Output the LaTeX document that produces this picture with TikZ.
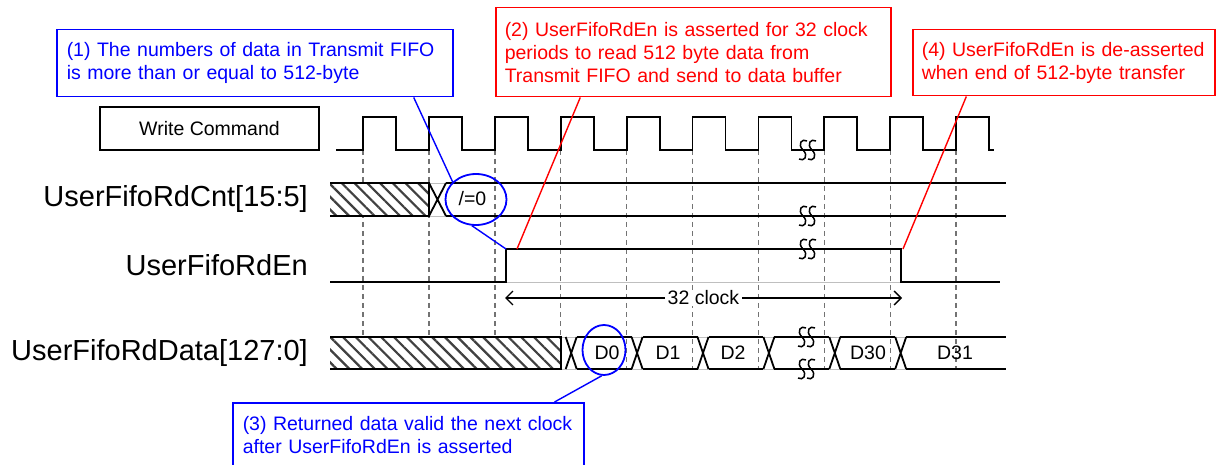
\documentclass[tikz,border=0pt]{standalone}
\usepackage{fontspec}
\setmainfont{Liberation Sans}
\usetikzlibrary{shapes.geometric,patterns.meta,arrows.meta,calc}

\begin{document}
\begin{tikzpicture}[x=1pt,y=-1pt,
  sig/.style={line width=1.8pt},
  bgline/.style={line width=0.8pt, black!25},
  guide/.style={line width=1.4pt, black!55, dash pattern=on 5pt off 4pt},
  txt/.style={font=\fontsize{19.5}{23}\selectfont},
  lbl/.style={font=\fontsize{29}{34}\selectfont, inner sep=0pt},
  cbox/.style={draw, line width=1.5pt, inner xsep=10pt, inner ysep=0pt,
               align=left, anchor=north west, txt},
  ring/.style={ellipse, draw=blue, line width=1.8pt, inner sep=0pt},
  lead/.style={line width=1.4pt},
  hatch/.style={pattern={Lines[angle=-45,distance=9pt,line width=2.2pt]},
                pattern color=black!75},
  brk/.pic={
    \foreach \cx in {-4,5}
      \draw[line width=1.5pt] ({\cx+4},-9) .. controls ({\cx-1},-12) and ({\cx-6},-6) .. (\cx,0)
                              .. controls ({\cx+6},6) and ({\cx+1},12) .. ({\cx-4},9);
  }
]
\useasboundingbox (0,0) rectangle (1216,465);

% dashed guides at every rising clock edge
\foreach \i in {0,...,9}
  \draw[guide] ({363+65.9*\i},150) -- ({363+65.9*\i},369);

% faint background rails
\draw[bgline] (330,183) -- (1006,183) (330,216) -- (1006,216);
\draw[bgline] (330,337) -- (1006,337) (330,369) -- (1006,369);
\draw[bgline] (330,282) -- (1000,282);

% clock
\draw[sig] (336,150)
  foreach \i in {0,...,9} {
    -- ({363+65.9*\i},150) -- ({363+65.9*\i},117)
    -- ({396+65.9*\i},117) -- ({396+65.9*\i},150)
  } -- (994,150);

% UserFifoRdCnt[15:5]
\fill[white] (330,183) rectangle (429,216);
\fill[hatch] (330,183) rectangle (429,216);
\draw[sig] (330,183) -- (429,183) -- (429,216) -- (330,216);
\draw[sig] (429,183) -- (446,216) (429,216) -- (446,183);
\draw[sig] (446,183) -- (1006,183) (446,216) -- (1006,216);

% UserFifoRdEn
\coordinate (enup) at (506,249);
\coordinate (enhi) at (517,249);
\coordinate (endn) at (903,249);
\draw[sig] (330,282) -- (506,282) -- (enup) -- (901,249) -- (901,282) -- (1000,282);

% UserFifoRdData[127:0]
\fill[white] (330,337) rectangle (561,369);
\fill[hatch] (330,337) rectangle (561,369);
\draw[sig] (330,337) -- (561,337) -- (561,369) -- (330,369);
\foreach \e in {560.7,626.6,692.5,758.4,824.3,890.2}
  \draw[sig] ({\e+5},337) -- ({\e+16},369) ({\e+5},369) -- ({\e+16},337);
\foreach \a/\b in {576.7/631.6, 642.6/697.5, 708.5/763.4, 774.4/829.3, 840.3/895.2, 906.2/1006}
  \draw[sig] (\a,337) -- (\b,337) (\a,369) -- (\b,369);

% break marks
\pic at (807,150) {brk};
\pic at (807,216) {brk};
\pic at (807,249) {brk};
\pic at (806,337) {brk};
\pic at (806,369) {brk};

% bus values
\node[txt, inner sep=0pt] (v0) at (472.5,198.5) {/=0};
\node[txt, inner sep=0pt] (d0) at (607,352.5) {D0};
\node[txt, inner sep=0pt] (d1) at (668,352.5) {D1};
\node[txt, inner sep=0pt] (d2) at (733,352.5) {D2};
\node[txt, inner sep=0pt] (d30) at (868,352.5) {D30};
\node[txt, inner sep=0pt] (d31) at (955,352.5) {D31};

% signal names
\node[draw, line width=1.5pt, minimum width=219pt, minimum height=43pt, txt]
  (wc) at (209.5,128.5) {Write Command};
\node[lbl, anchor=east] (lcnt) at (308,199.5) {UserFifoRdCnt[15:5]};
\node[lbl, anchor=east] (len)  at (308,265.5) {UserFifoRdEn};
\node[lbl, anchor=east] (ldat) at (308,353) {UserFifoRdData[127:0]};

% burst length
\coordinate (al) at (505,298);
\coordinate (ar) at (902,298);
\draw[lead, {Straight Barb[length=7pt,width=14pt]}-{Straight Barb[length=7pt,width=14pt]}]
  (al) -- (ar) node[midway, fill=white, inner xsep=3pt, inner ysep=1pt, txt] (t32) {32 clock};

% highlight rings
\node[ring, minimum width=61pt, minimum height=51pt] (ne) at (476,199.5) {};
\node[ring, minimum width=43pt, minimum height=50pt] (nd) at (604,350) {};

% callouts
\node[cbox, draw=blue, text=blue, text width=376pt, minimum height=67pt]
  (b1) at (56,29) {(1) The numbers of data in Transmit FIFO\\is more than or equal to 512-byte};
\node[cbox, draw=red, text=red, inner xsep=9pt, text width=377pt, minimum height=89pt]
  (b2) at (495,7) {(2) UserFifoRdEn is asserted for 32 clock\\periods to read 512 byte data from\\Transmit FIFO and send to data buffer};
\node[cbox, draw=red, text=red, inner xsep=9pt, text width=284pt, minimum height=66pt]
  (b4) at (912,29) {(4) UserFifoRdEn is de-asserted\\when end of 512-byte transfer};
\node[cbox, draw=blue, text=blue, text width=331pt, minimum height=65pt]
  (b3) at (232,402) {(3) Returned data valid the next clock\\after UserFifoRdEn is asserted};

\draw[lead, blue] ($(b1.south west)!0.9!(b1.south east)$) -- (ne.143);
\draw[lead, blue] (ne.261) -- (enup);
\draw[lead, red] ($(b2.south west)!0.215!(b2.south east)$) -- (enhi);
\draw[lead, red] ($(b4.south west)!0.179!(b4.south east)$) -- (endn);
\draw[lead, blue] (nd.265) -- ($(b3.north west)!0.915!(b3.north east)$);
\end{tikzpicture}
\end{document}
